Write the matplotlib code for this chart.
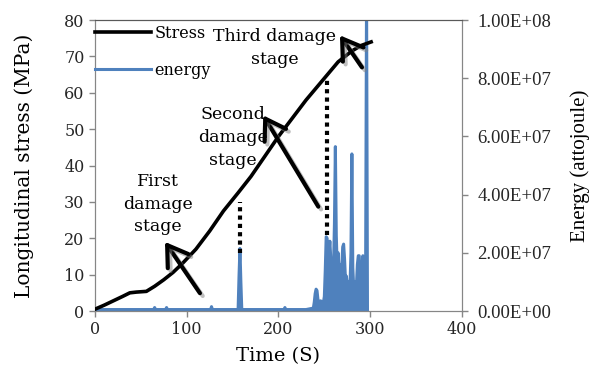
import numpy as np
import matplotlib.pyplot as plt
import matplotlib.patheffects as pe

# stress curve (Time s, MPa)
stress_t = [0, 10, 20, 30, 38, 45, 56, 65, 75, 85, 95, 110, 125, 140, 156,
            170, 185, 200, 215, 230, 250, 265, 280, 290, 301]
stress = [0.5, 1.6, 2.8, 4.0, 5.0, 5.2, 5.4, 6.8, 8.6, 10.6, 13.0, 17.0, 22.0,
          27.5, 32.5, 37.0, 42.5, 48.0, 53.0, 58.0, 64.0, 68.5, 71.5, 73.0, 74.0]

# energy (Time s, attojoule in 1e7 units)
energy_t = [0, 20, 40, 64, 65, 66, 77, 78, 79, 100, 126, 127, 128, 150, 156,
            157, 158, 159, 160, 175, 206, 207, 208, 230, 238, 239, 240, 241,
            242, 243, 244, 245, 246, 247, 248, 249, 250, 251, 252, 253, 254,
            255, 256, 257, 258, 259, 260, 261, 262, 263, 264, 265, 266, 267,
            268, 269, 270, 271, 272, 273, 274, 275, 276, 277, 278, 279, 280,
            281, 282, 283, 284, 285, 286, 287, 288, 289, 290, 291, 292, 293,
            294, 295, 296, 297]
energy = [0.05, 0.05, 0.05, 0.05, 0.12, 0.05, 0.05, 0.12, 0.05, 0.05, 0.05,
          0.15, 0.05, 0.05, 0.05, 1.2, 2.15, 1.0, 0.05, 0.05, 0.05, 0.12, 0.05,
          0.05, 0.1, 0.3, 0.6, 0.75, 0.7, 0.4, 0.3, 0.3, 0.35, 0.3, 0.3, 0.3,
          0.5, 1.4, 2.55, 2.5, 1.6, 2.0, 2.4, 1.8, 1.3, 1.8, 1.5, 3.0, 5.65,
          2.6, 1.5, 2.0, 1.4, 1.6, 1.0, 1.5, 2.2, 2.3, 1.8, 1.1, 1.2, 0.9, 0.8,
          1.0, 0.9, 2.0, 5.4, 1.5, 0.8, 1.0, 0.7, 0.9, 1.6, 1.9, 1.9, 1.2,
          1.2, 1.5, 1.9, 1.6, 1.2, 1.5, 11.0, 0.05]
energy = [e * 1e7 for e in energy]

blue = '#4F81BD'
grey = '#868686'
serif = 'DejaVu Serif'
times = 'Liberation Serif'

fig = plt.figure(figsize=(5.9, 3.79), dpi=100)
ax = fig.add_axes([0.161, 0.1794, 0.622, 0.7676])
ax2 = ax.twinx()

ax.plot(stress_t, stress, color='k', lw=2.6, label='Stress', zorder=3)
ax2.fill_between(energy_t, 0, energy, color=blue, lw=0)
ax2.plot(energy_t, energy, color=blue, lw=2.2, label='energy')

ax.set_xlim(0, 400)
ax.set_ylim(0, 80)
ax2.set_ylim(0, 1e8)
ax.set_xticks([0, 100, 200, 300, 400])
ax.set_yticks(range(0, 81, 10))

for a in (ax, ax2):
    for s in ('left', 'right', 'bottom'):
        a.spines[s].set_color(grey)
    a.spines['top'].set_color('#595959')
    a.tick_params(colors=grey, length=4, width=1, labelcolor='#262626')
ax.tick_params(labelsize=11.5)
ax2.tick_params(pad=7, labelsize=13.5)

e_ticks = np.arange(0, 1.01e8, 2e7)
ax2.set_yticks(e_ticks)
ax2.set_yticklabels(['%.2fE+%02d' % (v / 10 ** int(np.log10(v)), int(np.log10(v)))
                     if v > 0 else '0.00E+00' for v in e_ticks],
                    family=times, fontsize=13.5)
for lab in ax.get_xticklabels() + ax.get_yticklabels():
    lab.set_family(serif)

ax.set_xlabel('Time (S)', family=serif, fontsize=14, labelpad=6)
ax.set_ylabel('Longitudinal stress (MPa)', family=serif, fontsize=14.5, labelpad=22)
ax2.set_ylabel('Energy (attojoule)', family=times, fontsize=15, labelpad=14)

ax.set_zorder(ax2.get_zorder() + 1)
ax.patch.set_visible(False)

# dotted markers from curve to spikes
ax.vlines(158, 16, 30, colors='k', linestyles=(0, (1, 1)), lw=3, zorder=4)
ax.vlines(252.5, 21, 64.3, colors='k', linestyles=(0, (1, 1)), lw=3, zorder=4)

shadow = [pe.SimpleLineShadow(offset=(2, -2), shadow_color='grey', alpha=0.5),
          pe.Normal()]
arrows = [((114.4, 4.9), (76.3, 19.0)),
          ((243.4, 28.7), (183.4, 53.8)),
          ((291.0, 67.0), (267.0, 75.8))]
for tail, head in arrows:
    ax.annotate('', xy=head, xytext=tail,
                arrowprops=dict(arrowstyle='->,head_length=0.7,head_width=0.45',
                                lw=3, color='k', mutation_scale=20,
                                shrinkA=0, shrinkB=0, path_effects=shadow),
                zorder=5)

txt = dict(family=serif, fontsize=12.5, ha='center', va='center',
           linespacing=1.45, zorder=6)
ax.text(68.7, 29.4, 'First\ndamage\nstage', **txt)
ax.text(150.4, 47.8, 'Second\ndamage\nstage', **txt)
ax.text(196, 72.3, 'Third damage\nstage', **txt)

leg = ax.legend(handles=[ax.get_lines()[0], ax2.get_lines()[0]], loc='upper left',
                frameon=False, prop={'family': serif, 'size': 11.5},
                handlelength=3.5, labelspacing=1.25, borderaxespad=0,
                handletextpad=0.2, bbox_to_anchor=(-0.017, 1.005))

fig.savefig('out.png', dpi=100)
